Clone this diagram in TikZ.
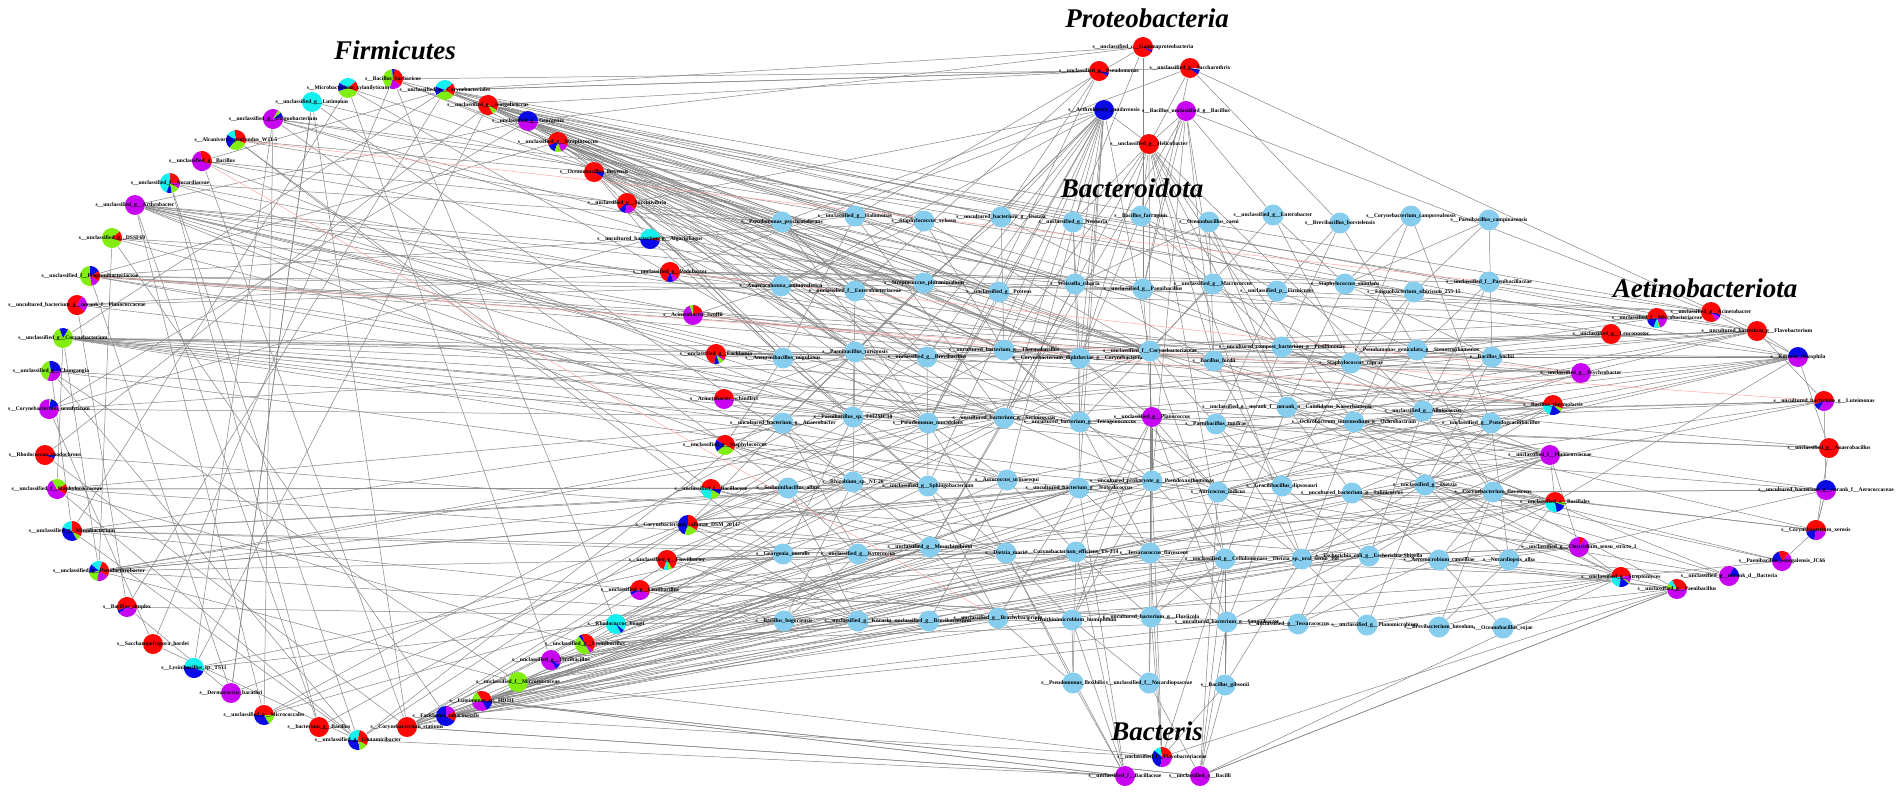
\documentclass[tikz,border=0pt]{standalone}
\usepackage{fontspec}
\setmainfont{Liberation Serif}
\usetikzlibrary{backgrounds}
\definecolor{rr}{HTML}{FF0606}
\definecolor{bb}{HTML}{0A0AE6}
\definecolor{mm}{HTML}{C805F2}
\definecolor{gg}{HTML}{82EE10}
\definecolor{cc}{HTML}{14F0F0}
\definecolor{sky}{HTML}{87CEEE}
\definecolor{edgec}{HTML}{858585}
\tikzset{
  nd/.style={circle, minimum size=21pt, inner sep=0pt, draw=none},
  lab/.style={font=\bfseries\fontsize{5.6}{6.5}\selectfont, inner sep=0pt},
  ttl/.style={font=\bfseries\itshape\fontsize{27}{30}\selectfont, inner sep=0pt},
  edge/.style={draw=edgec, line width=0.5pt},
  pinkedge/.style={draw=red!35, line width=0.5pt},
}
\newcommand\pn[5]{%
  \node[nd] (#1) at (#2,#3) {};
  \foreach \pc/\ps/\pe in {#5}{\fill[\pc] (#1.center) -- ++(\ps:10pt) arc[start angle=\ps, end angle=\pe, radius=10pt] -- cycle;}
  \node[lab] at (#1.center) {#4};}
\newcommand\bn[4]{%
  \node[nd, fill=sky] (#1) at (#2,#3) {};
  \node[lab] at (#1.center) {#4};}
\newcommand\bno[5]{%
  \node[nd, fill=sky] (#1) at (#2,#3) {};
  \node[lab, xshift=#5pt] at (#1.center) {#4};}
\newcommand\hub[2]{\foreach \tgt in {#2}{\draw[edge] (#1) -- (\tgt);}}
\catcode`\_=12
\begin{document}
\begin{tikzpicture}[x=1pt,y=-1pt]
\useasboundingbox (0,0) rectangle (1902,798);
% ---------- Firmicutes arc ----------
\pn{F1}{393}{79}{s__Bacillus_barbaricus}{gg/95/250, mm/250/320, rr/320/440, bb/440/455}
\pn{F2}{348}{88}{s__Microbacterium_xylanilyticum}{cc/40/150, bb/150/200, gg/200/340, rr/340/400}
\pn{F3}{312}{102}{s__unclassified_g__Lutimonas}{cc/0/360}
\pn{F4}{273}{119}{s__unclassified_g__Exiguobacterium}{mm/60/370, bb/10/40, gg/40/60}
\pn{F5}{236}{140}{s__Alcanivorax_profundus_W11-5}{rr/-20/100, cc/100/150, bb/150/230, gg/230/340}
\pn{F6}{202}{161}{s__unclassified_g__Bacillus}{mm/100/340, rr/340/460}
\pn{F7}{170}{183}{s__unclassified_f__Nocardiaceae}{rr/0/90, cc/90/250, bb/250/280, gg/280/330, mm/330/360}
\pn{F8}{135}{205}{s__unclassified_g__Arthrobacter}{mm/0/360}
\pn{F9}{112}{238}{s__unclassified_g__DSSF69}{gg/40/340, rr/340/400}
\pn{F10}{90}{276}{s__unclassified_f__Propionibacteriaceae}{gg/90/280, mm/280/330, rr/330/390, bb/390/450}
\pn{F11}{77}{305}{s__uncultured_bacterium_g__norank_f__Planococcaceae}{rr/60/320, mm/320/420}
\pn{F12}{63}{338}{s__unclassified_g__Corynebacterium}{gg/110/420, bb/420/470}
\pn{F13}{51}{371}{s__unclassified_g__Chungangia}{gg/100/250, mm/250/360, bb/0/100}
\pn{F14}{49}{409}{s__Corynebacterium_urealyticum}{mm/90/380, bb/380/440, gg/440/450}
\pn{F15}{45}{455}{s__Rhodococcus_rhodochrous}{rr/0/340, bb/340/360}
\pn{F16}{57}{489}{s__unclassified_f__Staphylococcaceae}{mm/120/330, rr/330/390, gg/390/480}
\pn{F17}{72}{531}{s__unclassified_g__Microbacterium}{cc/90/160, bb/160/300, gg/300/330, rr/330/450}
\pn{F18}{99}{571}{s__unclassified_g__Pseudarthrobacter}{cc/70/140, bb/140/190, gg/190/260, mm/260/330, rr/330/430}
\pn{F19}{127}{607}{s__Bacillus_simplex}{rr/-10/200, bb/200/220, mm/220/350}
\pn{F20}{153}{644}{s__Saccharopolyspora_hordei}{rr/0/360}
\pn{F21}{194}{668}{s__Lysinibacillus_sp._TS11}{cc/-20/170, bb/170/340}
\pn{F22}{231}{693}{s__Dermacoccus_barathri}{mm/0/360}
\pn{F23}{264}{715}{s__unclassified_o__Micrococcales}{rr/0/180, bb/180/300, gg/300/360}
\pn{F24}{319}{727}{s__bacterium_g__Bacillus}{rr/0/360}
\pn{F25}{358}{740}{s__unclassified_g__Glutamicibacter}{cc/80/180, bb/180/280, gg/280/330, rr/330/440}
\pn{F26}{407}{727}{s__Corynebacterium_stationis}{rr/0/360}
\pn{F27}{446}{716}{s__Facklamia_tabacinasalis}{bb/90/330, rr/330/390, mm/390/450}
\pn{F28}{482}{701}{s__Luteimonas_sp._HD111}{rr/0/120, gg/120/190, mm/190/300, bb/300/360}
\pn{F29}{518}{682}{s__unclassified_f__Micrococcaceae}{gg/0/360}
\pn{F30}{551}{660}{s__unclassified_g__Terribacillus}{mm/-30/300, bb/300/330}
\pn{F31}{585}{644}{s__unclassified_g__Lysinibacillus}{rr/-40/110, bb/110/130, gg/130/300, mm/300/320}
\pn{F32}{616}{624}{s__Rhodococcus_hoagii}{cc/-60/300, bb/300/320}
\pn{F33}{640}{590}{s__unclassified_g__Lentibacillus}{rr/-20/190, bb/190/210, mm/210/340}
\pn{F34}{667}{560}{s__unclassified_g__Fluviibacter}{rr/-60/250, cc/250/280, gg/280/300}
\pn{F35}{688}{525}{s__Corynebacterium_callunae_DSM_20147}{bb/90/250, gg/250/330, rr/330/450}
\pn{F36}{711}{489}{s__unclassified_f__Bacillaceae}{rr/0/170, cc/170/270, gg/270/330, bb/330/360}
\pn{F37}{725}{445}{s__unclassified_g__Staphylococcus}{rr/-30/150, bb/150/220, gg/220/330}
\pn{F38}{724}{399}{s__Acinetobacter_schindleri}{rr/0/180, mm/180/360}
\pn{F39}{716}{354}{s__unclassified_g__Facklamia}{rr/-30/260, bb/260/290, gg/290/320, mm/320/330}
\pn{F40}{693}{315}{s__Acinetobacter_lwoffii}{mm/110/380, rr/380/450, gg/450/470}
\pn{F41}{670}{272}{s__unclassified_g__Pedobacter}{rr/-40/250, bb/250/290, mm/290/320}
\pn{F42}{650}{239}{s__uncultured_bacterium_g__Algoriphagus}{cc/10/180, bb/180/350, rr/350/370}
\pn{F43}{627}{203}{s__unclassified_g__Succinivibrio}{rr/-40/220, bb/220/260, mm/260/320}
\pn{F44}{594}{172}{s__Oceanobacillus_iheyensis}{rr/0/330, bb/330/360}
\pn{F45}{558}{142}{s__unclassified_g__Streptococcus}{rr/-20/200, bb/200/250, gg/250/290, mm/290/340}
\pn{F46}{528}{121}{s__unclassified_g__Georgenia}{bb/0/180, mm/180/360}
\pn{F47}{488}{105}{s__unclassified_g__Jeotgalicoccus}{rr/-30/300, gg/300/330}
\pn{F48}{445}{90}{s__unclassified_o__Corynebacteriales}{cc/40/160, bb/160/210, gg/210/330, rr/330/400}
% ---------- Proteobacteria ----------
\pn{P1}{1143}{47}{s__unclassified_c__Gammaproteobacteria}{rr/-20/330, bb/330/340}
\pn{P2}{1099}{71}{s__unclassified_g__Pseudomonas}{rr/-20/330, bb/330/350}
\pn{P3}{1190}{68}{s__unclassified_g__Saccharothrix}{rr/0/320, bb/320/350}
\pn{P4}{1104}{110}{s__Arthrobacter_gandavensis}{bb/0/360}
\pn{P5}{1186}{111}{s__Bacillus_unclassified_g__Bacillus}{mm/0/360}
\pn{P6}{1149}{144}{s__unclassified_g__Helicobacter}{rr/0/360}
% ---------- Bacteroidota (blue) ----------
\bn{B1}{782}{222}{s__Pseudomonas_psychrotolerans}
\bn{B2}{855}{216}{s__unclassified_g__Halomonas}
\bn{B3}{924}{221}{s__Staphylococcus_xylosus}
\bn{B4}{1001}{217}{s__uncultured_bacterium_g__Dietzia}
\bn{B5}{1073}{222}{s__unclassified_g__Neisseria}
\bn{B6}{1141}{216}{s__Bacillus_farraginis}
\bn{B7}{1209}{222}{s__Oceanobacillus_caeni}
\bn{B8}{1273}{215}{s__unclassified_g__Enterobacter}
\bn{B9}{1340}{223}{s__Brevibacillus_borstelensis}
\bn{B10}{1411}{216}{s__Corynebacterium_camporealensis}
\bn{B11}{1489}{220}{s__Paenibacillus_campinasensis}
\bn{B12}{781}{286}{s__Anaerocolumna_aminovalerica}
\bn{B13}{855}{291}{s__unclassified_f__Enterobacteriaceae}
\bn{B14}{924}{283}{s__Streptococcus_pluranimalium}
\bn{B15}{999}{292}{s__unclassified_g__Proteus}
\bn{B16}{1075}{284}{s__Weissella_cibaria}
\bn{B17}{1143}{289}{s__unclassified_g__Paenibacillus}
\bn{B18}{1213}{284}{s__unclassified_g__Macrococcus}
\bn{B19}{1277}{291}{s__unclassified_p__Firmicutes}
\bn{B20}{1345}{284}{s__Staphylococcus_simulans}
\bn{B21}{1414}{292}{s__Exiguobacterium_sibiricum_255-15}
\bn{B22}{1489}{282}{s__unclassified_f__Paenibacillaceae}
\bn{B23}{783}{358}{s__Aneurinibacillus_migulanus}
\bn{B24}{855}{352}{s__Paenibacillus_turicensis}
\bn{B25}{927}{357}{s__unclassified_g__Brevibacillus}
\bn{B26}{1004}{350}{s__uncultured_bacterium_g__Thermobacillus}
\bn{B27}{1080}{358}{s__Corynebacterium_diphtheriae_g__Corynebacterium}
\bn{B28}{1150}{351}{s__unclassified_f__Corynebacteriaceae}
\bn{B29}{1214}{361}{s__Bacillus_fordii}
\bn{B30}{1282}{347}{s__uncultured_compost_bacterium_g__Pusillimonas}
\bn{B31}{1351}{363}{s__Staphylococcus_caprae}
\bn{B32}{1417}{350}{s__Pseudomonas_geniculata_g__Stenotrophomonas}
\bn{B33}{1492}{357}{s__Bacillus_kochii}
\bn{B34}{783}{423}{s__uncultured_bacterium_g__Anaerobacter}
\bn{B35}{853}{417}{s__Paenibacillus_sp._T412MC10}
\bn{B36}{928}{423}{s__Pseudomonas_mucidolens}
\bn{B37}{1004}{418}{s__uncultured_bacterium_g__Serinicoccus}
\bn{B38}{1080}{422}{s__uncultured_bacterium_g__Tetragenococcus}
\pn{M1}{1152}{417}{s__unclassified_g__Planococcus}{mm/0/360}
\bn{B39}{1216}{424}{s__Paenibacillus_tundrae}
\bn{B40}{1287}{407}{s__unclassified_g__norank_f__norank_o__Candidatus_Kaiserbacteria}
\bn{B41}{1354}{422}{s__Ochrobactrum_intermedium_g__Ochrobactrum}
\bn{B42}{1423}{411}{s__unclassified_g__Alloiococcus}
\bn{B43}{1491}{423}{s__unclassified_g__Pseudogracilibacillus}
\bn{B44}{788}{488}{s__Sediminibacillus_albus}
\bn{B45}{853}{482}{s__Rhizobium_sp._NT-26}
\bn{B46}{928}{486}{s__unclassified_g__Sphingobacterium}
\bn{B47}{1007}{480}{s__Aerococcus_urinaeequi}
\bn{B48}{1079}{488}{s__uncultured_bacterium_g__Jeotgalicoccus}
\bn{B49}{1152}{481}{s__uncultured_prokaryote_g__Pseudoxanthomonas}
\bn{B50}{1218}{492}{s__Auricoccus_indicus}
\bn{B51}{1282}{486}{s__Gracilibacillus_dipsosauri}
\bn{B52}{1352}{493}{s__uncultured_bacterium_g__Salinicoccus}
\bn{B53}{1425}{485}{s__unclassified_g__Dietzia}
\bn{B54}{1493}{492}{s__Corynebacterium_flavescens}
\bn{B55}{783}{554}{s__Georgenia_muralis}
\bn{B56}{858}{554}{s__unclassified_g__Kytococcus}
\bn{B57}{930}{547}{s__unclassified_g__Mesorhizobium}
\bn{B58}{1006}{553}{s__Dietzia_maris}
\bno{B59}{1076}{552}{s__Corynebacterium_efficiens_YS-314}{-4}
\bno{B60}{1150}{553}{s__Tessaracoccus_flavescens}{4}
\bn{B61}{1225}{559}{s__unclassified_g__Cellulomonas}
\bn{B62}{1302}{559}{s__Dietzia_sp._oral_taxon_368}
\bn{B63}{1369}{556}{s__Escherichia_coli_g__Escherichia-Shigella}
\bn{B64}{1439}{560}{s__Aeromicrobium_camelliae}
\bn{B65}{1509}{560}{s__Nocardiopsis_alba}
\bn{B66}{784}{621}{s__Bacillus_bogoriensis}
\bn{B67}{858}{621}{s__unclassified_g__Kocuria}
\bn{B68}{929}{621}{s__unclassified_g__Brevibacterium}
\bn{B69}{998}{618}{s__unclassified_g__Brachybacterium}
\bn{B70}{1072}{620}{s__Ornithinimicrobium_humiphilum}
\bn{B71}{1151}{617}{s__uncultured_bacterium_g__Fluviicola}
\bn{B72}{1227}{622}{s__uncultured_bacterium_g__Sanguibacter}
\bno{B73}{1298}{624}{s__unclassified_g__Tessaracoccus}{-9}
\bno{B74}{1367}{625}{s__unclassified_g__Planomicrobium}{8}
\bn{B75}{1439}{627}{s__Brevibacterium_luteolum}
\bn{B76}{1503}{628}{s__Oceanobacillus_sojae}
\bn{B77}{1073}{683}{s__Pseudomonas_flexibilis}
\bn{B78}{1149}{683}{s__unclassified_f__Nocardiopsaceae}
\bn{B79}{1225}{685}{s__Bacillus_gibsonii}
% ---------- Actinobacteriota ----------
\pn{A1}{1711}{312}{s__unclassified_g__Acinetobacter}{rr/0/300, mm/300/330, bb/330/345, rr/345/360}
\pn{A2}{1657}{318}{s__unclassified_f__Microbacteriaceae}{rr/0/190, bb/190/250, cc/250/280, gg/280/290, mm/290/360}
\pn{A3}{1611}{334}{s__unclassified_g__Leuconostoc}{rr/0/360}
\pn{A4}{1757}{331}{s__uncultured_bacterium_g__Flavobacterium}{rr/0/360}
\pn{A5}{1798}{357}{s__Kocuria_rhizophila}{bb/0/180, mm/180/360}
\pn{A6}{1581}{373}{s__unclassified_g__Psychrobacter}{mm/0/360}
\pn{A7}{1553}{405}{s__Bacillus_thermolactis}{rr/0/180, cc/180/250, bb/250/320, gg/320/340, rr/340/360}
\pn{A8}{1824}{401}{s__uncultured_bacterium_g__Luteimonas}{rr/0/200, bb/200/240, mm/240/360}
\pn{A9}{1550}{455}{s__unclassified_f__Planococcaceae}{mm/0/360}
\pn{A10}{1829}{448}{s__unclassified_g__Anaerobacillus}{rr/0/360}
\pn{A11}{1826}{490}{s__uncultured_bacterium_g__norank_f__Aerococcaceae}{bb/0/180, mm/180/360}
\pn{A12}{1555}{502}{s__unclassified_o__Bacillales}{rr/0/180, cc/180/280, bb/280/340, gg/340/360}
\pn{A13}{1816}{530}{s__Corynebacterium_xerosis}{rr/-10/190, bb/190/260, mm/260/350}
\pn{A14}{1579}{547}{s__unclassified_g__Clostridium_sensu_stricto_1}{mm/90/420, rr/420/450}
\pn{A15}{1621}{577}{s__unclassified_g__Streptomyces}{rr/10/180, cc/180/260, bb/260/320, gg/320/330, mm/330/370}
\pn{A16}{1677}{589}{s__unclassified_g__Paenibacillus}{mm/180/360, rr/0/120, cc/120/150, gg/150/180}
\pn{A17}{1729}{576}{s__unclassified_g__norank_d__Bacteria}{mm/60/360, bb/0/60}
\pn{A18}{1782}{561}{s__Paenibacillus_senegalensis_JC66}{mm/180/410, rr/410/470, bb/470/540}
% ---------- Bacteris ----------
\pn{X1}{1162}{757}{s__unclassified_f__Flavobacteriaceae}{rr/0/100, cc/100/140, bb/140/260, mm/260/360}
\pn{X2}{1125}{776}{s__unclassified_f__Bacillaceae}{mm/0/360}
\pn{X3}{1200}{776}{s__unclassified_c__Bacilli}{mm/0/360}
% ---------- titles ----------
\node[ttl] (tF) at (395,50) {Firmicutes};
\node[ttl] (tP) at (1147,18) {Proteobacteria};
\node[ttl] (tB) at (1132,188) {Bacteroidota};
\node[ttl] (tA) at (1705,288) {Aetinobacteriota};
\node[ttl] (tX) at (1157,731) {Bacteris};
% ---------- edges ----------
\begin{scope}[on background layer]
\fill[white] (0,0) rectangle (1902,798);
\hub{F1}{B14,B27,P2,F20,B3}
\hub{F2}{B28,F17,B36}
\hub{F3}{B45,B16,F22}
\hub{F4}{B21,B28,B44,B13,F21,B5}
\hub{F5}{B17,B55,F44}
\hub{F6}{B15,F26,B47}
\hub{F7}{B1,B27,B36,F25}
\hub{F8}{B14,B16,B23,B25,B28,B31,B35,B37,B38,F24,F23,B46,B58}
\hub{F9}{F18,B26,B47,F27}
\hub{F10}{B3,B13,B17,B27,B28,B30,B36,B37,A6,F22}
\hub{F11}{B12,F19,B38}
\hub{F12}{B23,B25,B27,B28,B34,B35,B37,B38,B41,B47,A7,B49,F16}
\hub{F13}{B36,B46,F25}
\hub{F14}{B37,F20,B26}
\hub{F15}{B64}
\hub{F16}{B34,B48,B57,F31,B44}
\hub{F17}{B35,B46,B47,B56,B58,F33,F13}
\hub{F18}{B36,B37,B45,B48,B49,B58,B67,F29,F12}
\hub{F19}{F22,B68}
\hub{F20}{F25}
\hub{F21}{B42,B61}
\hub{F22}{F3,B28}
\hub{F23}{B25,B37,F4,B48}
\hub{F24}{F7,B26}
\hub{F25}{B24,F17,B35,F16}
\hub{F26}{B28,B36,B37,B44,B47,B48,B49,B57,B60,F15,F3,X2,A12}
\hub{F27}{B57,B58,B59,B60,B61,B62,B63,A15,A16}
\hub{F28}{B41,B42,B48,B52,B53,B55,B57,B60,B62,B63,X2,X3,A14}
\hub{F29}{B48,B52,B54,B57,B62,B66,B69,F13,X1}
\hub{F30}{B46,B53,B57,B60,B63,B66,B67,F2}
\hub{F31}{B45,B50,B56,B61,B69,B72,A15}
\hub{F32}{B54,B55,B56,B58,B70,F1}
\hub{F33}{B48,B53,B55,B60,B61,B66,B71,B73}
\hub{F34}{B45,B55,B57,B59,B63,B67,B69}
\hub{F35}{B34,B44,B49,B55,B58,B67,A9}
\hub{F36}{B36,B44,B47,B57,B58,F5}
\hub{F37}{B23,B34,B45,B46,B50}
\hub{F38}{B24,B35,B36}
\hub{F39}{B23,B24,B27,B33}
\hub{F40}{B12,B26}
\hub{F41}{B12,B13,B14,B17,B20,B22,F9,F11}
\hub{F42}{B2,B12,B23,B37,F14}
\hub{F43}{B1,B13,B23,B24,B28,B35,F6}
\hub{F44}{B1,B2,B13,B14,B16,B23,B24,B25,B27,B38,F42}
\hub{F45}{B1,B3,B14,B15,B24,B26,B27,B28,B36,A3,F10}
\hub{F46}{B2,B14,B15,B16,B25,B26,B28,B37,A4,F8,F14}
\hub{F47}{B3,B4,B12,B13,B14,B16,B17,B26,B27,B31,A2,A5,F21,F15}
\hub{F48}{P1,P2,P3,B3,B4,B13,B14,B15,B21,B27,A1,F6,F12,F19}
\hub{P1}{B5,B17,F46,B2}
\hub{P2}{B4,B13,F47,B36}
\hub{P3}{B1,B9,B17,B37,A4}
\hub{P4}{B4,B12,B15,B16,B24,B25,B26,B27,B28,B34,B35,B36,B37,B38,B46,B47,B48,F41,F43,P6}
\hub{P5}{B6,B17,B18,B29,B49,B57,B8,A1,P6}
\hub{P6}{B5,B6,B26,B27,B28,B29,B30,B40,B41,B42,B61,B62}
\hub{A1}{B19,B22,B14,A5}
\hub{A2}{B20,B21,B12,B25,B31,A4}
\hub{A3}{B17,B26,B35,B30,A5}
\hub{A4}{B27,B28,B30,B31,B35,B40,B42,B47,A5,A8}
\hub{A5}{B27,B28,B33,B38,B39,B41,B43,B48,B50,A10,A12}
\hub{A6}{B23,B26,B29,B32,B36,B50}
\hub{A7}{B25,B26,B31,B40,B41,B50,B52,B62}
\hub{A8}{B38,B41,B50,B53,B42,A11}
\hub{A9}{B28,B29,B30,B39,B41,B52,B53,B62,B63,A12,A14,B72}
\hub{A10}{B37,B39,B42,A13}
\hub{A11}{B36,B41,B52,B54,A13,A14}
\hub{A12}{B37,B40,B50,B52,B56,B60,B62,B65,B73}
\hub{A13}{B40,B53,B54,A18,A11}
\hub{A14}{B47,B52,B62,B63,B64,A15}
\hub{A15}{B40,B52,B53,B58,B64,B74,B75,A16}
\hub{A16}{B54,B63,B64,X3,B76}
\hub{A17}{B41,B49,B65,B53}
\hub{A18}{B39,B53,A15}
\hub{B1}{B13,B25,B36}
\hub{B2}{B15,B23,B37}
\hub{B3}{B26,B12,B28}
\hub{B4}{B17,B26,B14}
\hub{B5}{B18,B38,B27}
\hub{B6}{B19,B27,B30}
\hub{B7}{B16,B29,B40}
\hub{B8}{B20,B28,B31}
\hub{B9}{B19,B32,B30}
\hub{B10}{B20,B31,B43}
\hub{B11}{B21,B33,B20}
\hub{B12}{B25,B24,B36}
\hub{B13}{B26,B35}
\hub{B14}{B27,B34}
\hub{B15}{B28,B36}
\hub{B16}{B29,B37}
\hub{B17}{B30,M1}
\hub{B18}{B31,B38}
\hub{B19}{B32,B39}
\hub{B20}{B33,B40}
\hub{B21}{B31,B41}
\hub{B22}{B32,B42}
\hub{B23}{B35,B46}
\hub{B24}{B37,B45}
\hub{B25}{B38,B46}
\hub{B26}{B38,B49}
\hub{B27}{M1,B48,B50}
\hub{B28}{B49,B39,B60,B61,B40}
\hub{B29}{B41,B51}
\hub{B30}{B42,B50}
\hub{B31}{B43,B51}
\hub{B32}{B41,B54}
\hub{B33}{B42,B53}
\hub{B34}{B45,B56}
\hub{B35}{B46,B55}
\hub{B36}{B47,B58}
\hub{B37}{B49,B57}
\hub{B38}{B50,B60}
\hub{M1}{B49,B60,B71,B72,B70,B59,B50,B39}
\hub{B39}{B51,B62}
\hub{B40}{B52,B61}
\hub{B41}{B53,B62}
\hub{B42}{B54,B63}
\hub{B43}{B53,B65}
\hub{B44}{B56,B67}
\hub{B45}{B57,B66}
\hub{B46}{B58,B69}
\hub{B47}{B59,B68}
\hub{B48}{B60,B69}
\hub{B49}{B61,B70}
\hub{B50}{B62,B71}
\hub{B51}{B63,B72}
\hub{B52}{B64,B73}
\hub{B53}{B65,B74}
\hub{B54}{B64,B75}
\hub{B55}{B67}
\hub{B56}{B66}
\hub{B57}{B69}
\hub{B58}{B70,B77}
\hub{B59}{B71,B77}
\hub{B60}{B72,B78}
\hub{B61}{B71,B79}
\hub{B62}{B74,B79}
\hub{B63}{B73}
\hub{B64}{B76}
\hub{B65}{B75}
\hub{B69}{B77}
\hub{B70}{B77,B78}
\hub{B71}{B78}
\hub{B72}{B79}
\hub{X1}{B60,B61,B71,B49,B79,A16,F27}
\hub{X2}{B77,B70,B59,B58,B48,F26,F28,F25}
\hub{X3}{B79,B72,B61,B78,A16,A15,F28,B50}
\draw[pinkedge] (F10) -- (A8);
\draw[pinkedge] (F6) -- (B69);
\draw[pinkedge] (F5) -- (B22);
\draw[pinkedge] (F41) -- (A6);
\draw[pinkedge] (F40) -- (A7);
\end{scope}
\end{tikzpicture}
\end{document}
